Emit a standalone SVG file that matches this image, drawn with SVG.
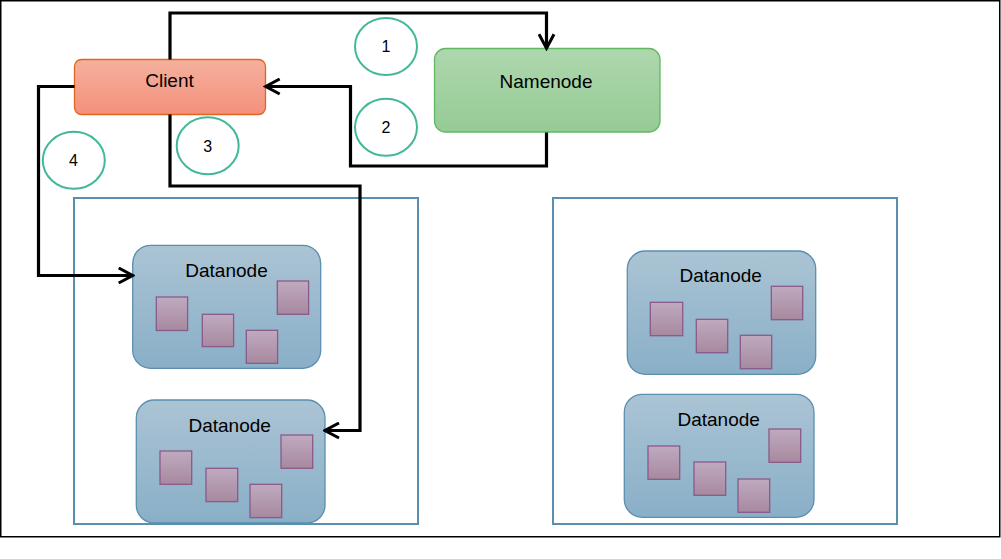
<svg xmlns="http://www.w3.org/2000/svg" width="1001" height="559" viewBox="0 0 1001 559">
  <defs>
    <linearGradient id="gClient" x1="0" y1="0" x2="0" y2="1">
      <stop offset="0" stop-color="#F4B19E"/>
      <stop offset="1" stop-color="#F4907B"/>
    </linearGradient>
    <linearGradient id="gName" x1="0" y1="0" x2="0" y2="1">
      <stop offset="0" stop-color="#AED7AE"/>
      <stop offset="1" stop-color="#95CB95"/>
    </linearGradient>
    <linearGradient id="gData" x1="0" y1="0" x2="0" y2="1">
      <stop offset="0" stop-color="#ABC4D4"/>
      <stop offset="1" stop-color="#89AFC7"/>
    </linearGradient>
    <linearGradient id="gBlock" x1="0" y1="0" x2="0" y2="1">
      <stop offset="0" stop-color="#BFAABF"/>
      <stop offset="1" stop-color="#A7899F"/>
    </linearGradient>
    <marker id="arr" markerUnits="userSpaceOnUse" viewBox="0 0 18 18" markerWidth="18" markerHeight="18" refX="15.5" refY="9" orient="auto">
      <path d="M1.5,1.5 L15.5,9 L1.5,16.5" fill="none" stroke="#000" stroke-width="3"/>
    </marker>
    <style>
      .lbl{font-family:"Liberation Sans",Arial,sans-serif;font-size:19px;fill:#000;text-anchor:middle}
      .num{font-family:"Liberation Sans",Arial,sans-serif;font-size:16px;fill:#000;text-anchor:middle}
      .step{fill:none;stroke:#42B79A;stroke-width:2}
      .rack{fill:none;stroke:#5A8FB0;stroke-width:2}
      .dn{fill:url(#gData);stroke:#5A8FB0;stroke-width:1.3}
      .blk{fill:url(#gBlock);stroke:#8A5A8A;stroke-width:1.3}
      .conn{fill:none;stroke:#000;stroke-width:3.2;marker-end:url(#arr)}
    </style>
  </defs>
  <rect x="0" y="0" width="1001" height="559" fill="#fff"/>
  <rect x="0.75" y="0.75" width="999" height="536" fill="none" stroke="#000" stroke-width="1.5"/>

  <g id="rack-left"><rect class="rack" x="74" y="198" width="344" height="326"/></g>
  <g id="rack-right"><rect class="rack" x="553" y="198" width="344" height="326"/></g>

  <g id="client">
    <rect x="74.5" y="59.5" width="191" height="55" rx="7" fill="url(#gClient)" stroke="#E2651E" stroke-width="1.3"/>
    <text class="lbl" x="169.5" y="87">Client</text>
  </g>

  <g id="namenode">
    <rect x="434.5" y="48.5" width="225.5" height="83.5" rx="11" fill="url(#gName)" stroke="#62B862" stroke-width="1.3"/>
    <text class="lbl" x="546" y="88.3">Namenode</text>
  </g>

  <g id="datanode-1">
    <rect class="dn" x="132.7" y="245.3" width="188" height="123" rx="18"/>
    <text class="lbl" x="226.5" y="277">Datanode</text>
    <rect class="blk" x="156.3" y="297" width="31.3" height="33.5"/>
    <rect class="blk" x="202.3" y="314.3" width="31.3" height="32.3"/>
    <rect class="blk" x="246.3" y="330.3" width="31.3" height="33"/>
    <rect class="blk" x="277.3" y="281" width="31.3" height="33.3"/>
  </g>

  <g id="datanode-2">
    <rect class="dn" x="136.3" y="400" width="188.7" height="123" rx="18"/>
    <text class="lbl" x="229.7" y="431.7">Datanode</text>
    <rect class="blk" x="160" y="451" width="31.7" height="33.3"/>
    <rect class="blk" x="206" y="468.3" width="31.7" height="33.3"/>
    <rect class="blk" x="250" y="484.3" width="31.7" height="33.3"/>
    <rect class="blk" x="281" y="435" width="31.7" height="33.3"/>
  </g>

  <g id="datanode-3">
    <rect class="dn" x="627.3" y="251" width="188.4" height="123.3" rx="18"/>
    <text class="lbl" x="720.7" y="282.3">Datanode</text>
    <rect class="blk" x="650.3" y="302.3" width="32.4" height="33.4"/>
    <rect class="blk" x="696.3" y="319.3" width="31.4" height="33.4"/>
    <rect class="blk" x="740.3" y="335.3" width="31.4" height="33.4"/>
    <rect class="blk" x="771.3" y="286.3" width="31.4" height="33.4"/>
  </g>

  <g id="datanode-4">
    <rect class="dn" x="624.3" y="394.3" width="189.7" height="123" rx="18"/>
    <text class="lbl" x="718.7" y="425.7">Datanode</text>
    <rect class="blk" x="648" y="446" width="31.7" height="33.3"/>
    <rect class="blk" x="694" y="462" width="31.7" height="33.3"/>
    <rect class="blk" x="738" y="479" width="31.7" height="33.3"/>
    <rect class="blk" x="769" y="429" width="31.7" height="33.3"/>
  </g>

  <g id="connectors">
    <path class="conn" d="M170,59.5 V13 H546.5 V48.3"/>
    <path class="conn" d="M546.5,132.5 V166 H350.5 V86.5 H265.7"/>
    <path class="conn" d="M170,114.5 V186 H360 V430.5 H325"/>
    <path class="conn" d="M74.5,86.5 H38.5 V275.5 H132.7"/>
  </g>

  <g id="step-1"><ellipse class="step" cx="386" cy="46.5" rx="31" ry="28.5"/><text class="num" x="386" y="52.3">1</text></g>
  <g id="step-2"><ellipse class="step" cx="386" cy="127.3" rx="31" ry="28.5"/><text class="num" x="386" y="133.3">2</text></g>
  <g id="step-3"><ellipse class="step" cx="207.7" cy="145.8" rx="31" ry="28.5"/><text class="num" x="207.7" y="152">3</text></g>
  <g id="step-4"><ellipse class="step" cx="73.8" cy="160.3" rx="31" ry="28.5"/><text class="num" x="73.5" y="166.2">4</text></g>
</svg>
